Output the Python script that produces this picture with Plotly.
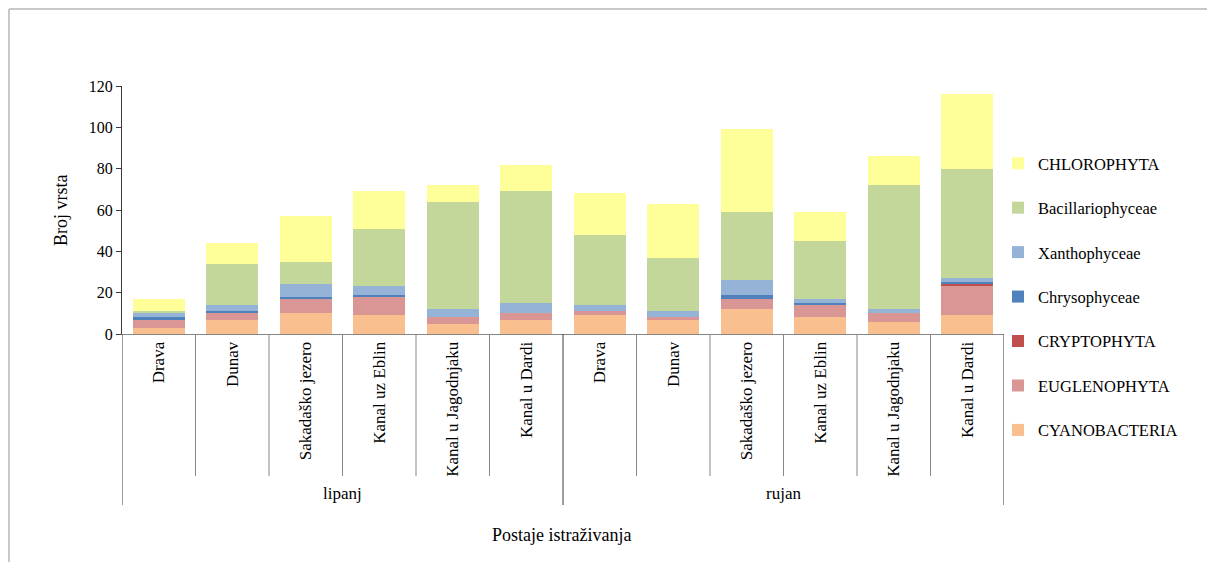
import plotly.graph_objects as go

months = ["lipanj", "rujan"]
stations = ["Drava", "Dunav", "Sakadaško jezero", "Kanal uz Eblin", "Kanal u Jagodnjaku", "Kanal u Dardi"]

cyanobacteria = [3, 7, 10, 9, 5, 7, 9, 7, 12, 8, 6, 9]
euglenophyta = [4, 3, 7, 9, 3, 3, 2, 1, 5, 6, 4, 14]
cryptophyta = [0, 0, 0, 0, 0, 0, 0, 0, 0, 0, 0, 1]
chrysophyceae = [1, 1, 1, 1, 0, 0, 0, 0, 2, 1, 0, 1]
xanthophyceae = [2, 3, 6, 4, 4, 5, 3, 3, 7, 2, 2, 2]
bacillariophyceae = [1, 20, 11, 28, 52, 54, 34, 26, 33, 28, 60, 53]
chlorophyta = [6, 10, 22, 18, 8, 13, 20, 26, 40, 14, 14, 36]

series = [
    ("CYANOBACTERIA", cyanobacteria, "#FABF8F"),
    ("EUGLENOPHYTA", euglenophyta, "#DA9694"),
    ("CRYPTOPHYTA", cryptophyta, "#C0504D"),
    ("Chrysophyceae", chrysophyceae, "#4F81BD"),
    ("Xanthophyceae", xanthophyceae, "#95B3D7"),
    ("Bacillariophyceae", bacillariophyceae, "#C4D79B"),
    ("CHLOROPHYTA", chlorophyta, "#FFFF99"),
]

# unique category keys, displayed with station names only
keys = [m + " | " + s for m in months for s in stations]
labels = [s for m in months for s in stations]

FONT = "Liberation Serif"

# page body has an 8px margin, so the figure is drawn 8px in from the screenshot edge
OFF = 8
W, H = 1215 - 2 * OFF, 570 - 2 * OFF
# plot area in screenshot pixels
L, R, T, B = 122, 1004, 86, 334

def px(x):
    return (x - L) / (R - L)

def py(y):
    return (B - y) / (B - T)

fig = go.Figure()
for i, (name, vals, color) in enumerate(series):
    fig.add_trace(go.Bar(
        x=keys, y=vals, name=name, legendgroup=name,
        legendrank=len(series) - i,
        marker=dict(color=color, line=dict(width=0)),
    ))

shapes = []
n = len(keys)
for i in range(n + 1):
    outer = i % len(stations) == 0
    shapes.append(dict(
        type="line", xref="x", yref="paper",
        x0=i - 0.5, x1=i - 0.5, y0=0, y1=py(505) if outer else py(476),
        line=dict(color="#3a3a3a" if outer else "#868686", width=1),
    ))
# chart border (top and left edge)
shapes.append(dict(type="line", xref="paper", yref="paper",
                   x0=px(OFF + 1), x1=px(1215), y0=py(OFF + 1), y1=py(OFF + 1),
                   line=dict(color="#c8c8c8", width=2)))
shapes.append(dict(type="line", xref="paper", yref="paper",
                   x0=px(OFF + 1), x1=px(OFF + 1), y0=py(OFF + 1), y1=py(570),
                   line=dict(color="#c8c8c8", width=2)))

def note(text, x, xref, y, size=17, angle=0):
    return dict(text=text, x=x, xref=xref, y=y, yref="paper", showarrow=False,
                xanchor="center", yanchor="middle", textangle=angle,
                font=dict(size=size, color="black", family=FONT))

annotations = [
    note("lipanj", 2.5, "x", py(494)),
    note("rujan", 8.5, "x", py(494)),
    note("Postaje istraživanja", px(561), "paper", py(535), size=18),
    note("Broj vrsta", px(61), "paper", py(210), size=18, angle=-90),
]

fig.update_layout(
    width=W, height=H,
    margin=dict(l=L - OFF, r=W - (R - OFF), t=T - OFF, b=H - (B - OFF), pad=0),
    barmode="stack", bargap=0.286,
    plot_bgcolor="white", paper_bgcolor="white",
    font=dict(family=FONT, size=16, color="black"),
    showlegend=True,
    legend=dict(
        x=px(998), xanchor="left", y=py(297), yanchor="middle",
        traceorder="grouped", tracegroupgap=20, maxheight=420,
        font=dict(size=16.5, family=FONT, color="black"),
        bgcolor="rgba(0,0,0,0)",
    ),
    xaxis=dict(
        type="category", tickmode="array", tickvals=keys, ticktext=labels,
        tickangle=-90, showline=True, linecolor="#868686", linewidth=1,
        ticks="", showgrid=False, zeroline=False,
        tickfont=dict(size=17, family=FONT, color="black"),
        range=[-0.5, n - 0.5],
    ),
    yaxis=dict(
        range=[0, 120], tickvals=[0, 20, 40, 60, 80, 100, 120],
        showline=True, linecolor="#3a3a3a", linewidth=1,
        ticks="outside", ticklen=5, tickcolor="#3a3a3a",
        showgrid=False, zeroline=False,
        tickfont=dict(size=16, family=FONT, color="black"),
    ),
    shapes=shapes,
    annotations=annotations,
)

fig.write_html("out.html")
